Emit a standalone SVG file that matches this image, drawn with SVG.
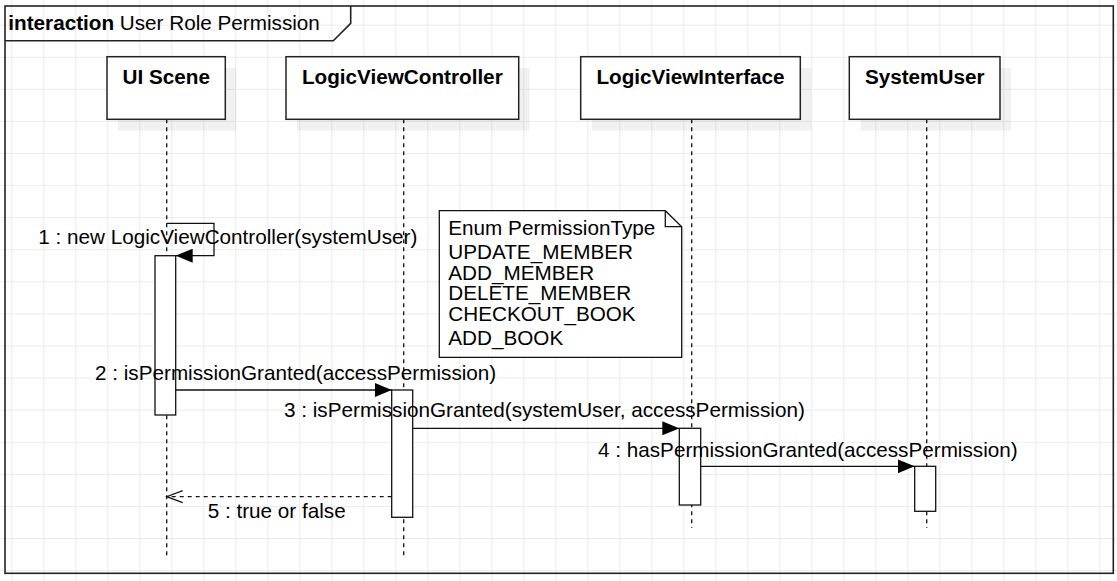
<svg xmlns="http://www.w3.org/2000/svg" width="1117" height="581" viewBox="0 0 1117 581">
<style>
text{font-family:"Liberation Sans",Arial,Helvetica,sans-serif;font-size:20.7px;fill:#000}
.hd{font-weight:bold;text-anchor:middle}
.box{fill:#fff;stroke:#222;stroke-width:1.5}
.shadow{fill:#000;fill-opacity:0.055}
.act{fill:#fff;stroke:#111;stroke-width:1.3}
.life{fill:none;stroke:#111;stroke-width:1.3;stroke-dasharray:4 4}
.msg{fill:none;stroke:#111;stroke-width:1.3}
.ret{fill:none;stroke:#111;stroke-width:1.3;stroke-dasharray:4 4}
</style>
<defs>
<pattern id="grid" patternUnits="userSpaceOnUse" x="11.3" y="24.7" width="32" height="32.08">
<path d="M0.5,0 V32.08 M0,0.5 H32" fill="none" stroke="#ebebeb" stroke-width="1"/>
</pattern>
<marker id="filled" markerUnits="userSpaceOnUse" viewBox="0 0 17 14" refX="17" refY="7" markerWidth="17" markerHeight="14" orient="auto">
<path d="M0,0 L17,7 L0,14 Z" fill="#000"/>
</marker>
<marker id="open" markerUnits="userSpaceOnUse" viewBox="-1 -1 19 14" refX="16" refY="6" markerWidth="19" markerHeight="14" orient="auto">
<path d="M0,0 L16,6 L0,12" fill="none" stroke="#111" stroke-width="1.3" stroke-dasharray="none"/>
</marker>
</defs>
<rect width="1117" height="581" fill="#fff"/>
<rect width="1117" height="581" fill="url(#grid)"/>

<g id="frame">
<rect x="5" y="6" width="1108.3" height="567.3" fill="none" stroke="#222" stroke-width="1.6"/>
<path d="M5,40.7 H333.3 L350.7,23.3 V6" fill="none" stroke="#222" stroke-width="1.6"/>
<text x="8.3" y="29.5"><tspan font-weight="bold">interaction</tspan> User Role Permission</text>
</g>

<g id="lifelines">
<path class="life" d="M166.7,119.3 V556.7"/>
<path class="life" d="M403.7,119.3 V556.7"/>
<path class="life" d="M691.7,119.3 V528"/>
<path class="life" d="M926.7,119.3 V528"/>
</g>

<g id="node-ui-scene">
<rect class="shadow" x="118" y="68" width="118.3" height="62.6"/>
<rect class="box" x="107" y="56.7" width="118.3" height="62.6"/>
<text class="hd" x="166.2" y="84.3">UI Scene</text>
</g>
<g id="node-logicviewcontroller">
<rect class="shadow" x="297" y="68" width="232.7" height="62.6"/>
<rect class="box" x="286" y="56.7" width="232.7" height="62.6"/>
<text class="hd" x="402.3" y="84.3">LogicViewController</text>
</g>
<g id="node-logicviewinterface">
<rect class="shadow" x="591.7" y="68" width="219.6" height="62.6"/>
<rect class="box" x="580.7" y="56.7" width="219.6" height="62.6"/>
<text class="hd" x="690.5" y="84.3">LogicViewInterface</text>
</g>
<g id="node-systemuser">
<rect class="shadow" x="860.3" y="68" width="150.7" height="62.6"/>
<rect class="box" x="849.3" y="56.7" width="150.7" height="62.6"/>
<text class="hd" x="924.7" y="84.3">SystemUser</text>
</g>

<g id="node-note">
<path d="M439.3,210.7 H665.3 L681.7,226.7 V357.3 H439.3 Z" fill="#fff" stroke="#111" stroke-width="1.3"/>
<path d="M665.3,210.7 V226.7 H681.7" fill="none" stroke="#111" stroke-width="1.3"/>
<text x="448.3" y="234.8">Enum PermissionType</text>
<text x="448.3" y="259">UPDATE_MEMBER</text>
<text x="448.3" y="280">ADD_MEMBER</text>
<text x="448.3" y="300.3">DELETE_MEMBER</text>
<text x="448.3" y="321">CHECKOUT_BOOK</text>
<text x="448.3" y="344.5">ADD_BOOK</text>
</g>

<g id="activations">
<rect class="act" x="155" y="255.7" width="20.7" height="159.3"/>
<rect class="act" x="391.7" y="390" width="21" height="127.3"/>
<rect class="act" x="679.3" y="428.3" width="21.4" height="76.7"/>
<rect class="act" x="914.7" y="466.3" width="21" height="45"/>
</g>

<g id="connectors">
<path class="msg" d="M166.7,223.3 H214 V255.7 H175.7" marker-end="url(#filled)"/>
<path class="msg" d="M175.7,390 H391.7" marker-end="url(#filled)"/>
<path class="msg" d="M412.7,428.3 H679.3" marker-end="url(#filled)"/>
<path class="msg" d="M700.7,466.3 H914.7" marker-end="url(#filled)"/>
<path class="ret" d="M391.7,496.7 H166.7" marker-end="url(#open)"/>
<text x="38.3" y="244">1 : new LogicViewController(systemUser)</text>
<text x="95" y="380">2 : isPermissionGranted(accessPermission)</text>
<text x="284" y="417.3">3 : isPermissionGranted(systemUser, accessPermission)</text>
<text x="598" y="456.7">4 : hasPermissionGranted(accessPermission)</text>
<text x="207.7" y="518.3">5 : true or false</text>
</g>
</svg>
